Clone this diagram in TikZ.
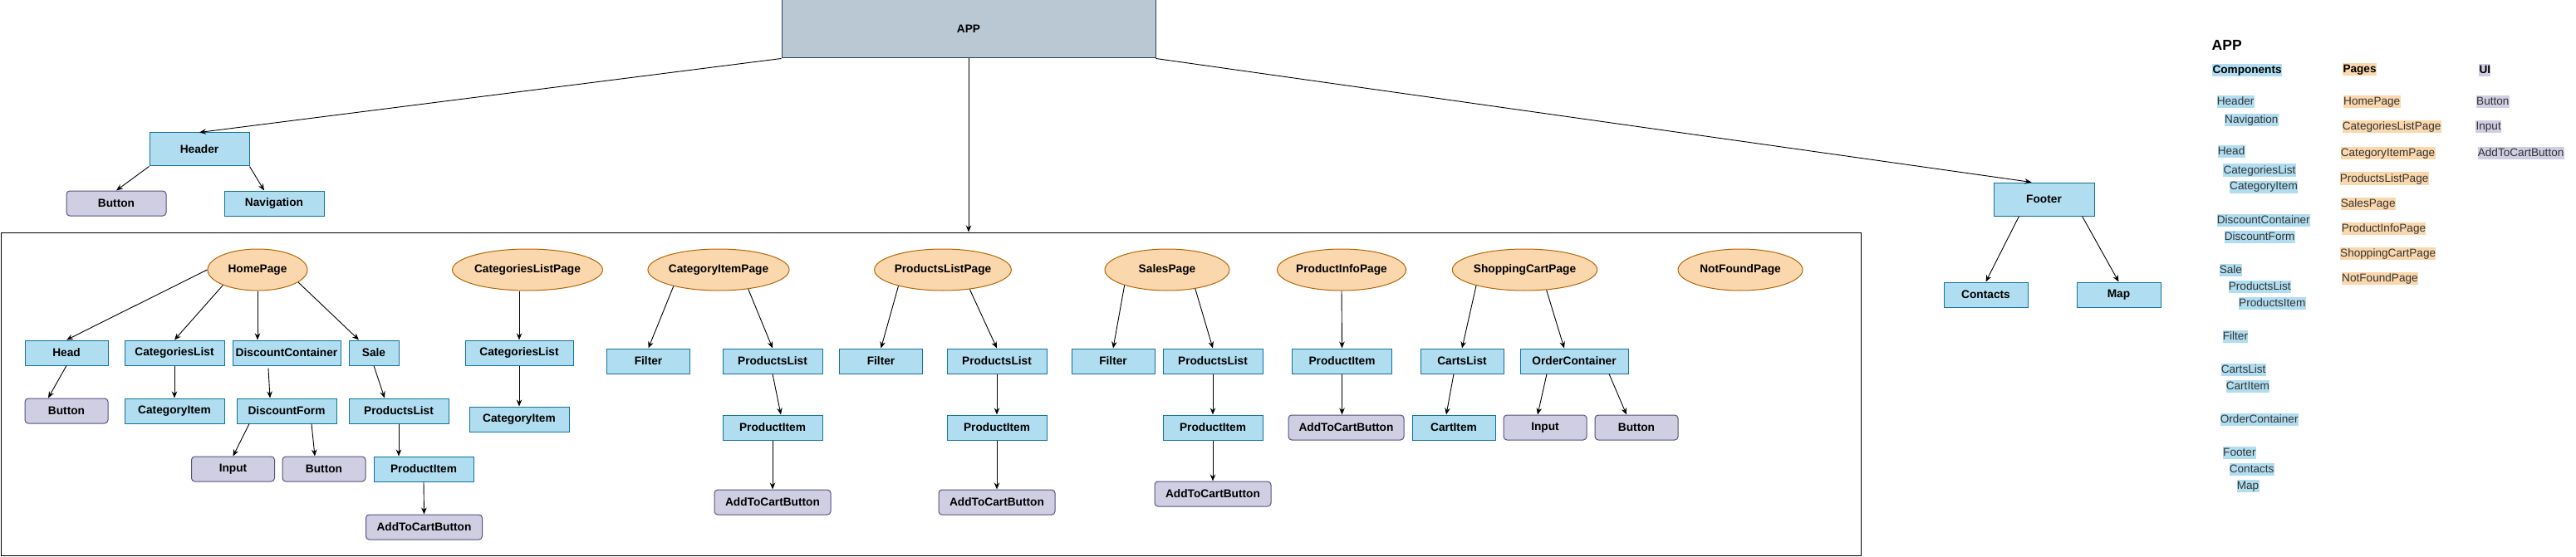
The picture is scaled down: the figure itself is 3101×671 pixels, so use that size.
\documentclass[tikz,border=0pt]{standalone}
\usepackage{fontspec}
\setmainfont{Liberation Sans}
\usetikzlibrary{arrows.meta,shapes.geometric}

\definecolor{compfill}{HTML}{B1DDF0}
\definecolor{compdraw}{HTML}{10739E}
\definecolor{pagefill}{HTML}{FAD7AC}
\definecolor{pagedraw}{HTML}{B46504}
\definecolor{uifill}{HTML}{D0CEE2}
\definecolor{uidraw}{HTML}{56517E}
\definecolor{appfill}{HTML}{BAC8D3}
\definecolor{appdraw}{HTML}{23445D}

\begin{document}
\begin{tikzpicture}%
	[x={(1pt,0pt)},
	y={(0pt,-1pt)},
	font=\fontsize{13.7}{16}\selectfont\bfseries,
	appbox/.style={draw=appdraw, fill=appfill, line width=1pt, minimum width=450pt, minimum height=70pt, inner sep=0pt},
	comp/.style={draw=compdraw, fill=compfill, line width=1pt, minimum height=30pt, inner sep=0pt},
	page/.style={ellipse, draw=pagedraw, fill=pagefill, line width=1pt, minimum width=150pt, minimum height=50pt, inner sep=0pt},
	ui/.style={draw=uidraw, fill=uifill, line width=1pt, rounded corners=4pt, minimum height=30pt, inner sep=0pt},
	frame/.style={draw=black, line width=1pt, inner sep=0pt},
	edge/.style={-{Stealth[length=8pt,width=6.5pt]}, line width=0.9pt, color=black},
	legend/.style={anchor=west, inner xsep=0.3pt, inner ysep=0.5pt, text height=11pt, text depth=3pt, font=\fontsize{13.6}{16}\selectfont, text=black!80}]
%
\useasboundingbox (0,0) rectangle (3101,671);
%%
%% Top level
%%
\node[appbox] (app) at (1166,35) {APP};
\node[frame, minimum width=2239pt, minimum height=389pt] (pages) at (1120.5,474.5) {};
\node[comp, minimum width=120pt, minimum height=40pt] (header) at (240,180) {Header};
\node[ui, minimum width=120pt] (hbutton) at (140,245) {Button};
\node[comp, minimum width=120pt] (nav) at (330,245) {Navigation};
\node[comp, minimum width=121pt, minimum height=40pt] (footer) at (2460.5,240) {Footer};
\node[comp, minimum width=101pt] (contacts) at (2390.5,355) {Contacts};
\node[comp, minimum width=101pt] (map) at (2550.5,355) {Map};

\draw[edge] (app.south west) -- (header.north);
\draw[edge] (app.south) -- (app.south |- pages.north);
\draw[edge] (app.south east) -- ([xshift=-15pt]footer.north);
\draw[edge] (header.south west) -- (hbutton.north);
\draw[edge] (header.south east) -- ([xshift=-12pt]nav.north);
\draw[edge] ([xshift=-30pt]footer.south) -- (contacts.north);
\draw[edge] ([xshift=46pt]footer.south) -- (map.north);
%%
%% HomePage
%%
\node[page, minimum width=120pt] (home) at (310,325) {HomePage};
\node[comp, minimum width=100pt] (head) at (80,425) {Head};
\node[comp, minimum width=120pt] (catlist) at (210,425) {CategoriesList};
\node[comp, minimum width=130pt] (discount) at (345,425) {DiscountContainer};
\node[comp, minimum width=60pt] (sale) at (450,425) {Sale};
\node[ui, minimum width=100pt] (headbtn) at (80,495) {Button};
\node[comp, minimum width=120pt] (catitem) at (210,495) {CategoryItem};
\node[comp, minimum width=120pt] (discform) at (345,495) {DiscountForm};
\node[comp, minimum width=120pt] (salelist) at (480,495) {ProductsList};
\node[ui, minimum width=100pt] (forminput) at (280.5,565) {Input};
\node[ui, minimum width=100pt] (formbtn) at (390,565) {Button};
\node[comp, minimum width=120pt] (saleitem) at (510,565) {ProductItem};
\node[ui, minimum width=140pt] (salecart) at (510.5,635) {AddToCartButton};

\draw[edge] (home.west) -- (head.north);
\draw[edge] (home.204) -- (catlist.north);
\draw[edge] (home.south) -- (home.south |- discount.north);
\draw[edge] (home.-17) -- ([xshift=-18pt]sale.north);
\draw[edge] (head.south) -- ([xshift=-22pt]headbtn.north);
\draw[edge] (catlist.south) -- (catitem.north);
\draw[edge] ([xshift=-22pt,yshift=-3pt]discount.south) -- ([xshift=-20pt]discform.north);
\draw[edge] (sale.south) -- ([xshift=-17pt]salelist.north);
\draw[edge] ([xshift=-45pt]discform.south) -- (forminput.north);
\draw[edge] ([xshift=30pt]discform.south) -- ([xshift=-11pt]formbtn.north);
\draw[edge] (salelist.south) -- (salelist.south |- saleitem.north);
\draw[edge] (saleitem.south) -- (salecart.north);
%%
%% CategoriesListPage
%%
\node[page] (clpage) at (635,325) {CategoriesListPage};
\node[comp, minimum width=130pt] (catlist2) at (625,425) {CategoriesList};
\node[comp, minimum width=120pt] (catitem2) at (625,505) {CategoryItem};

\draw[edge] (catlist2.north |- clpage.south) -- (catlist2.north);
\draw[edge] (catlist2.south) -- (catitem2.north);
%%
%% CategoryItemPage
%%
\node[page] (cipage) at (865,325) {CategoryItemPage};
\node[comp, minimum width=100pt] (filter1) at (780.5,435) {Filter};
\node[comp, minimum width=120pt] (prodlist1) at (930,435) {ProductsList};
\node[comp, minimum width=120pt] (proditem1) at (930,515) {ProductItem};
\node[ui, minimum width=140pt] (cartbtn1) at (930,605) {AddToCartButton};

\draw[edge] (cipage.200) -- (filter1.north);
\draw[edge] (cipage.-33) -- (prodlist1.north);
\draw[edge] (prodlist1.south) -- ([xshift=10pt]proditem1.north);
\draw[edge] (proditem1.south) -- (cartbtn1.north);
%%
%% ProductsListPage
%%
\node[page] (plpage) at (1135,325) {ProductsListPage};
\node[comp, minimum width=100pt] (filter2) at (1060.5,435) {Filter};
\node[comp, minimum width=120pt] (prodlist2) at (1200,435) {ProductsList};
\node[comp, minimum width=120pt] (proditem2) at (1200,515) {ProductItem};
\node[ui, minimum width=140pt] (cartbtn2) at (1200,605) {AddToCartButton};

\draw[edge] (plpage.200) -- (filter2.north);
\draw[edge] (plpage.-36) -- (prodlist2.north);
\draw[edge] (prodlist2.south) -- (proditem2.north);
\draw[edge] (proditem2.south) -- (cartbtn2.north);
%%
%% SalesPage
%%
\node[page] (spage) at (1405,325) {SalesPage};
\node[comp, minimum width=100pt] (filter3) at (1340,435) {Filter};
\node[comp, minimum width=120pt] (prodlist3) at (1460,435) {ProductsList};
\node[comp, minimum width=120pt] (proditem3) at (1460,515) {ProductItem};
\node[ui, minimum width=140pt] (cartbtn3) at (1460,595) {AddToCartButton};

\draw[edge] (spage.200) -- (filter3.north);
\draw[edge] (spage.-34) -- (prodlist3.north);
\draw[edge] (prodlist3.south) -- (proditem3.north);
\draw[edge] (proditem3.south) -- (cartbtn3.north);
%%
%% ProductInfoPage
%%
\node[page] (pipage) at (1615,325) {ProductInfoPage};
\node[comp, minimum width=120pt] (proditem4) at (1615.5,435) {ProductItem};
\node[ui, minimum width=139pt] (cartbtn4) at (1620.5,515) {AddToCartButton};

\draw[edge] (pipage.south) -- (proditem4.north);
\draw[edge] (proditem4.south) -- (proditem4.south |- cartbtn4.north);
%%
%% ShoppingCartPage
%%
\node[page] (scpage) at (1835.5,325) {ShoppingCartPage};
\node[comp, minimum width=100pt] (cartlist) at (1760,435) {CartsList};
\node[comp, minimum width=130pt] (order) at (1895,435) {OrderContainer};
\node[comp, minimum width=100pt] (cartitem) at (1750,515) {CartItem};
\node[ui, minimum width=100pt] (orderinput) at (1860,515) {Input};
\node[ui, minimum width=100pt] (orderbtn) at (1970,515) {Button};

\draw[edge] (scpage.198) -- (cartlist.north);
\draw[edge] (scpage.-43.5) -- ([xshift=-12pt]order.north);
\draw[edge] ([xshift=-10pt]cartlist.south) -- ([xshift=-9pt]cartitem.north);
\draw[edge] ([xshift=-33pt]order.south) -- ([xshift=-9pt]orderinput.north);
\draw[edge] ([xshift=42pt]order.south) -- ([xshift=-12pt]orderbtn.north);
%%
%% NotFoundPage
%%
\node[page] (nfpage) at (2095,325) {NotFoundPage};
%%
%%
%% Legend
%%
\node[anchor=west, inner sep=0pt, font=\fontsize{17.5}{20}\selectfont\bfseries] (lapp) at (2662.5,54) {APP};
\node[legend, fill=compfill, font=\fontsize{13.6}{16}\selectfont\bfseries, text=black] (lcomp) at (2663,85) {Components};
\node[legend, fill=pagefill, font=\fontsize{13.6}{16}\selectfont\bfseries, text=black] (lpages) at (2820,84) {Pages};
\node[legend, fill=uifill, font=\fontsize{13.6}{16}\selectfont\bfseries, text=black] (lui) at (2984,85) {UI};
% components
\node[legend, fill=compfill] (l1) at (2668.3,123) {Header};
\node[legend, fill=compfill] (l2) at (2677.7,145) {Navigation};
\node[legend, fill=compfill] (l3) at (2669.3,183) {Head};
\node[legend, fill=compfill] (l4) at (2676,205) {CategoriesList};
\node[legend, fill=compfill] (l5) at (2683.7,225) {CategoryItem};
\node[legend, fill=compfill] (l6) at (2668.3,265) {DiscountContainer};
\node[legend, fill=compfill] (l7) at (2677.3,285) {DiscountForm};
\node[legend, fill=compfill] (l8) at (2671.3,325) {Sale};
\node[legend, fill=compfill] (l9) at (2682.3,345) {ProductsList};
\node[legend, fill=compfill] (l10) at (2694.7,365) {ProductsItem};
\node[legend, fill=compfill] (l11) at (2675.3,405) {Filter};
\node[legend, fill=compfill] (l12) at (2673.3,445) {CartsList};
\node[legend, fill=compfill] (l13) at (2679.3,465) {CartItem};
\node[legend, fill=compfill] (l14) at (2672.3,505) {OrderContainer};
\node[legend, fill=compfill] (l15) at (2675.7,545) {Footer};
\node[legend, fill=compfill] (l16) at (2683.3,565) {Contacts};
\node[legend, fill=compfill] (l17) at (2692.3,585) {Map};
% pages
\node[legend, fill=pagefill] (p1) at (2820.7,123) {HomePage};
\node[legend, fill=pagefill] (p2) at (2819.3,153) {CategoriesListPage};
\node[legend, fill=pagefill] (p3) at (2817.3,185) {CategoryItemPage};
\node[legend, fill=pagefill] (p4) at (2816.3,215) {ProductsListPage};
\node[legend, fill=pagefill] (p5) at (2817.3,245) {SalesPage};
\node[legend, fill=pagefill] (p6) at (2818.3,275) {ProductInfoPage};
\node[legend, fill=pagefill] (p7) at (2816.7,305) {ShoppingCartPage};
\node[legend, fill=pagefill] (p8) at (2818.7,335) {NotFoundPage};
% ui
\node[legend, fill=uifill] (u1) at (2980.7,123) {Button};
\node[legend, fill=uifill] (u2) at (2980,153) {Input};
\node[legend, fill=uifill] (u3) at (2982.3,185) {AddToCartButton};

\end{tikzpicture}
\end{document}
